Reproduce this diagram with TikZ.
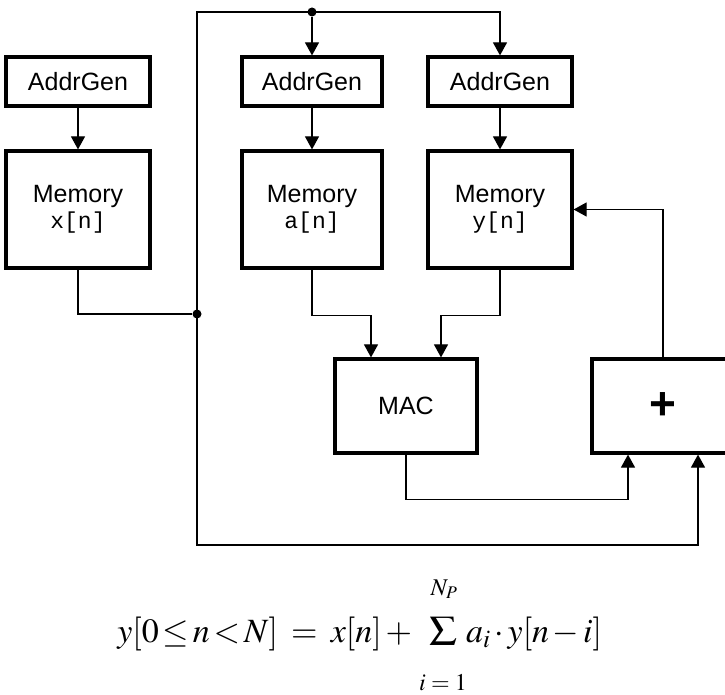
\documentclass[tikz,border=0pt]{standalone}
\usepackage{graphicx}
\usepackage{mathptmx}
\usepackage{fontspec}
\setmainfont{Liberation Serif}
\setsansfont{Liberation Sans}
\setmonofont{Liberation Mono}
\usetikzlibrary{arrows.meta,positioning}

\tikzset{
  blk/.style={draw, line width=3.2pt, inner sep=0pt, align=center,
    font=\fontsize{25}{26}\selectfont\sffamily},
  wire/.style={line width=1.2pt},
  dot/.style={circle, fill, inner sep=0pt, minimum size=9pt},
  eqn/.style={inner sep=0pt, font=\fontsize{34}{40}\selectfont},
  lim/.style={inner sep=0pt, font=\fontsize{24}{26}\selectfont}
}
\newcommand{\arr}[1]{\texttt{\fontsize{23}{26}\selectfont #1}}
\newcommand{\eqsp}{\thickmuskip=2mu\relax\medmuskip=2mu\relax}

\begin{document}
\begin{tikzpicture}[x=1pt,y=1pt,>={Triangle[length=13pt,width=14pt]}]
\useasboundingbox (0,0) rectangle (725,694);
% address generators
\node[blk, minimum width=144pt, minimum height=49pt] (ag1) at (78,612.5) {AddrGen};
\node[blk, minimum width=140pt, minimum height=49pt] (ag2) at (312,612.5) {AddrGen};
\node[blk, minimum width=144pt, minimum height=49pt] (ag3) at (500,612.5) {AddrGen};
% memories
\node[blk, minimum width=144pt, minimum height=117pt] (memx) at (78,484.5) {Memory\\\arr{x[n]}};
\node[blk, minimum width=140pt, minimum height=117pt] (mema) at (312,484.5) {Memory\\\arr{a[n]}};
\node[blk, minimum width=144pt, minimum height=117pt] (memy) at (500,484.5) {Memory\\\arr{y[n]}};
% arithmetic
\node[blk, minimum width=142pt, minimum height=94pt] (mac) at (406,288) {MAC};
\node[blk, minimum width=142pt, minimum height=94pt] (plus) at (663,288) {\fontsize{46}{46}\selectfont\bfseries +};
% junctions
\coordinate (top) at (197,682);
\coordinate (bot) at (197,149);
\node[dot] (jx) at (197,380) {};
\node[dot] (jt) at (312,682) {};

\draw[wire,->] (ag1) -- (memx);
\draw[wire,->] (ag2) -- (mema);
\draw[wire,->] (ag3) -- (memy);
\draw[wire] (memx.south) |- (jx);
\draw[wire,->] (jx.center) -- (top) -| (ag3.north);
\draw[wire,->] (jt) -- (ag2);
\draw[wire,->] (mema.south) -- ++(0,-46) -| ([xshift=-35pt]mac.north);
\draw[wire,->] (memy.south) -- ++(0,-46) -| ([xshift=35pt]mac.north);
\draw[wire,->] (mac.south) -- ++(0,-45) -| ([xshift=-35pt]plus.south);
\draw[wire,->] (jx.center) -- (bot) -| ([xshift=35pt]plus.south);
\draw[wire,->] (plus.north) |- (memy.east);

% equation
\node[eqn, anchor=base east] (lhs) at (416,52) {$\eqsp y[0\le n<N] \mskip5mu=\mskip5mu x[n] +{}$};
\node[inner sep=0pt] (sig) at (443,63) {\resizebox{28pt}{22pt}{$\sum$}};
\node[eqn, anchor=base west] (rhs) at (466,52) {$\eqsp a_i\cdot y[n-i]$};
\node[lim, anchor=base] (up) at (444,99) {$N_P$};
\node[lim, anchor=base] (lo) at (443,4) {$i = 1$};
\end{tikzpicture}
\end{document}
